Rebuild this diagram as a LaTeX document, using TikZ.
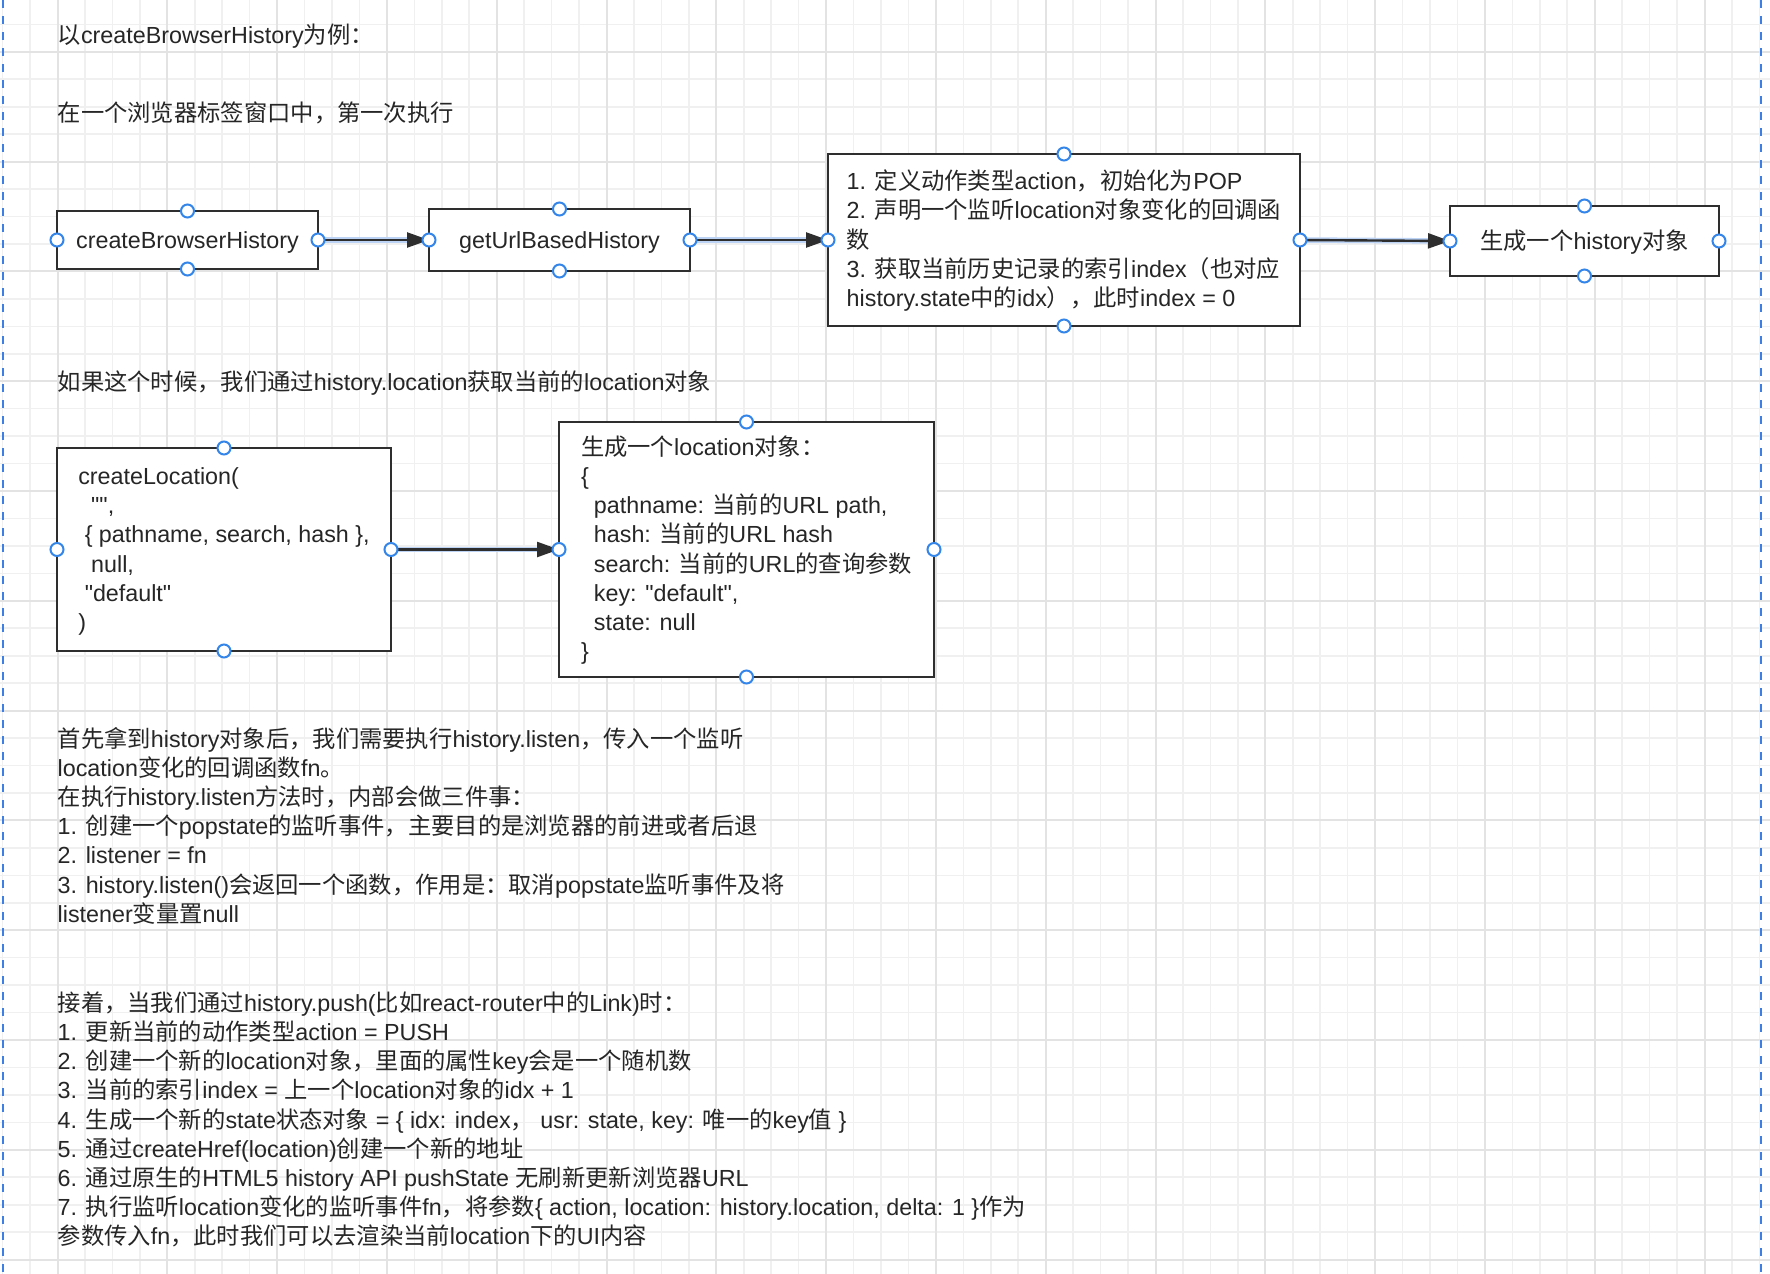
\documentclass[tikz,border=0pt]{standalone}
\usepackage{fontspec}
\setmainfont{Liberation Sans}
\newfontfamily\enfont{Liberation Sans}
\newfontfamily\zhfont{Noto Sans CJK SC}
\usetikzlibrary{arrows.meta}

\definecolor{textcol}{HTML}{262626}
\definecolor{linecol}{HTML}{2E2E2E}
\definecolor{portcol}{HTML}{3385EA}
\definecolor{halocol}{HTML}{BCD3F5}
\definecolor{gridminor}{HTML}{F0F0F0}
\definecolor{gridmajor}{HTML}{E3E3E3}
\definecolor{guidecol}{HTML}{3D7FE3}

% Chinese characters and full-width punctuation go to the CJK font
\newXeTeXintercharclass\zhclass
\newcount\zhc
\zhc="3000 \loop\XeTeXcharclass\zhc=\zhclass \advance\zhc by 1 \ifnum\zhc<"3040 \repeat
\zhc="4E00 \loop\XeTeXcharclass\zhc=\zhclass \advance\zhc by 1 \ifnum\zhc<"A000 \repeat
\zhc="FF00 \loop\XeTeXcharclass\zhc=\zhclass \advance\zhc by 1 \ifnum\zhc<"FFF0 \repeat
\XeTeXinterchartoks 0 \zhclass = {\zhfont}
\XeTeXinterchartoks 4095 \zhclass = {\zhfont}
\XeTeXinterchartoks \zhclass 0 = {\enfont}
\XeTeXinterchartoks \zhclass 4095 = {\enfont}

% line height as in the drawing tool
\newcommand{\linestrut}{\rule[-0.212em]{0pt}{1.117em}}

\begin{document}
\XeTeXinterchartokenstate=1
\begin{tikzpicture}[x=1pt, y=-1pt, line join=miter, font=\enfont\fontsize{23.3}{29.2}\selectfont]
	\tikzset{
		box/.style={draw=linecol, line width=2.6pt, fill=white, inner sep=0pt, outer sep=0pt, align=left, text=textcol},
		txt/.style={anchor=west, inner sep=0pt, align=left, text=textcol},
		port/.style={circle, draw=portcol, line width=2pt, fill=white, minimum size=13pt, inner sep=0pt},
		halo/.style={halocol, line width=5.5pt, shorten >=20pt},
		link/.style={linecol, line width=2.4pt, -{Triangle[length=22pt,width=15pt]}},
		guide/.style={guidecol, line width=2pt, dash pattern=on 8pt off 8pt}
	}
	\useasboundingbox (0,0) rectangle (1770,1274);
	\fill[white] (0,0) rectangle (1770,1274);

	% grid
	\foreach \k in {-2,...,62} \draw[gridminor, line width=1.6pt] ({57.5+27.45*\k},0) -- ++(0,1274);
	\foreach \k in {-1,...,44} \draw[gridminor, line width=1.6pt] (0,{51.8+27.45*\k}) -- ++(1770,0);
	\foreach \k in {0,...,15} \draw[gridmajor, line width=2pt] ({57.5+109.8*\k},0) -- ++(0,1274);
	\foreach \k in {0,...,11} \draw[gridmajor, line width=2pt] (0,{51.8+109.8*\k}) -- ++(1770,0);
	\draw[guide] (2.7,0) -- (2.7,1274);
	\draw[guide] (1761,0) -- (1761,1274);

	% first run
	\node[txt] (intro) at (57.5,35) {\linestrut 以createBrowserHistory为例：};
	\node[txt] (first) at (57.5,113) {\linestrut 在一个浏览器标签窗口中，第一次执行};

	\node[box, minimum width=261pt, minimum height=58pt] (cbh) at (187.5,240) {\linestrut createBrowserHistory};
	\node[box, minimum width=261pt, minimum height=62pt] (urlh) at (559.5,240) {\linestrut getUrlBasedHistory};
	\node[box, minimum width=472pt, minimum height=172pt] (steps) at (1064,240)
		{\linestrut 1. 定义动作类型action，初始化为POP\\
		2. 声明一个监听location对象变化的回调函\\
		数\\
		3. 获取当前历史记录的索引index（也对应\\
		history.state中的idx），此时index = 0\linestrut};
	\node[box, minimum width=269pt, minimum height=70pt] (histobj) at (1584.5,241) {\linestrut 生成一个history对象};

	% location
	\node[txt] (ask) at (57.5,382.7) {\linestrut 如果这个时候，我们通过history.location获取当前的location对象};

	\node[box, minimum width=334pt, minimum height=203pt] (mkloc) at (224,549.5)
		{\linestrut createLocation(\\
		\mbox{}\ \ "",\\
		\mbox{}\ \{ pathname, search, hash \},\\
		\mbox{}\ \ null,\\
		\mbox{}\ "default"\\
		)\linestrut};
	\node[box, minimum width=375pt, minimum height=255pt] (locobj) at (746.5,549.5)
		{\linestrut 生成一个location对象：\\
		\{\\
		\mbox{}\ \ pathname: 当前的URL path,\\
		\mbox{}\ \ hash: 当前的URL hash\\
		\mbox{}\ \ search: 当前的URL的查询参数\\
		\mbox{}\ \ key: "default",\\
		\mbox{}\ \ state: null\\
		\}\linestrut};

	\foreach \s/\t in {cbh/urlh, urlh/steps, steps/histobj, mkloc/locobj} {
		\draw[halo] (\s.east) -- (\t.west);
		\draw[link] (\s.east) -- (\t.west);
	}
	\foreach \n in {cbh, urlh, steps, histobj, mkloc, locobj}
		\foreach \a in {north, south, east, west}
			\node[port] (\n-\a) at (\n.\a) {};

	% listen
	\node[txt] (listen) at (57.5,826.7)
		{\linestrut 首先拿到history对象后，我们需要执行history.listen，传入一个监听\\
		location变化的回调函数fn。\\
		在执行history.listen方法时，内部会做三件事：\\
		1. 创建一个popstate的监听事件，主要目的是浏览器的前进或者后退\\
		2. listener = fn\\
		3. history.listen()会返回一个函数，作用是：取消popstate监听事件及将\\
		listener变量置null\linestrut};

	% push
	\node[txt] (push) at (57.5,1120)
		{\linestrut 接着，当我们通过history.push(比如react-router中的Link)时：\\
		1. 更新当前的动作类型action = PUSH\\
		2. 创建一个新的location对象，里面的属性key会是一个随机数\\
		3. 当前的索引index = 上一个location对象的idx + 1\\
		4. 生成一个新的state状态对象 = \{ idx: index， usr: state, key: 唯一的key值 \}\\
		5. 通过createHref(location)创建一个新的地址\\
		6. 通过原生的HTML5 history API pushState 无刷新更新浏览器URL\\
		7. 执行监听location变化的监听事件fn，将参数\{ action, location: history.location, delta: 1 \}作为\\
		参数传入fn，此时我们可以去渲染当前location下的UI内容\linestrut};
\end{tikzpicture}
\end{document}
